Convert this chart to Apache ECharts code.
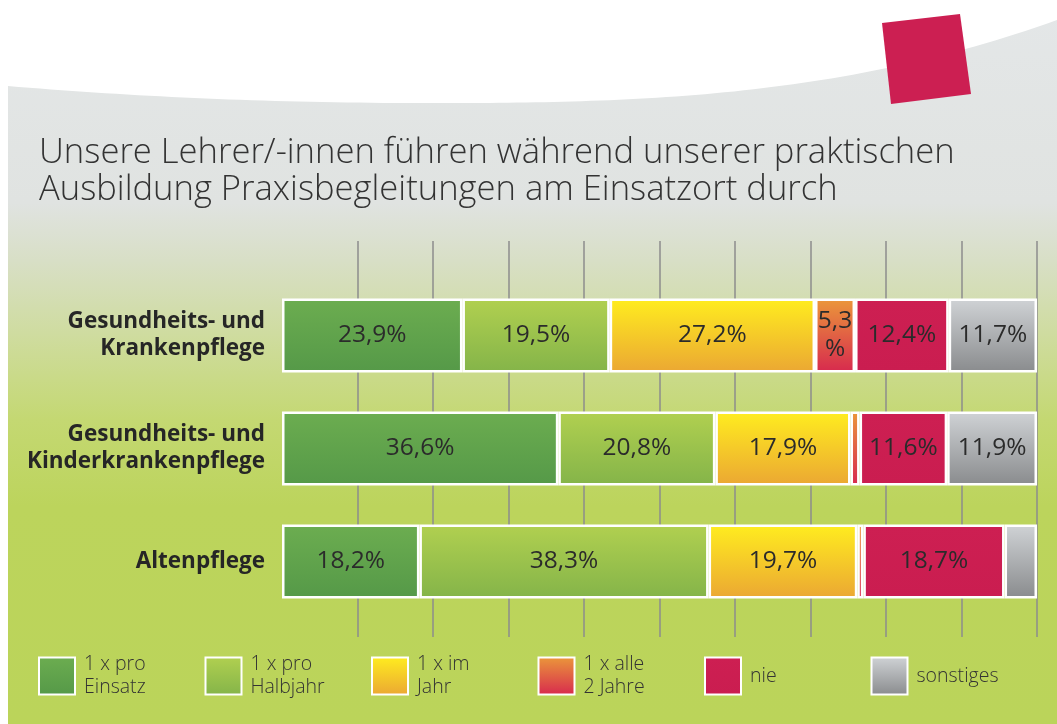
<!DOCTYPE html>
<html><head><meta charset="utf-8">
<script src="https://cdn.jsdelivr.net/npm/echarts@6/dist/echarts.min.js"></script>
<style>html,body{margin:0;padding:0;background:#fff}#c{width:1057px;height:724px}</style>
</head><body><div id="c"></div>
<script>
const categories = ['Gesundheits- und\nKrankenpflege', 'Gesundheits- und\nKinderkrankenpflege', 'Altenpflege'];
const seriesNames = ['1 x pro\nEinsatz', '1 x pro\nHalbjahr', '1 x im\nJahr', '1 x alle\n2 Jahre', 'nie', 'sonstiges'];
const proEinsatz = [23.9, 36.6, 18.2];
const proHalbjahr = [19.5, 20.8, 38.3];
const imJahr = [27.2, 17.9, 19.7];
const alle2Jahre = [5.3, 1.2, 0.8];
const nie = [12.4, 11.6, 18.7];
const sonstiges = [11.7, 11.9, 4.3];
const axisTicks = [0, 10, 20, 30, 40, 50, 60, 70, 80, 90, 100];

const values = [proEinsatz, proHalbjahr, imJahr, alle2Jahre, nie, sonstiges];
const gradients = [
  ['#6cad50', '#559948'],
  ['#b1d050', '#84b449'],
  ['#ffed1f', '#eba733'],
  ['#eb983a', '#d7294e'],
  ['#cd1f52', '#ca1d50'],
  ['#d0d3d6', '#898b8d']
];
function grad(c) {
  return new echarts.graphic.LinearGradient(0, 0, 0, 1, [{offset: 0, color: c[0]}, {offset: 1, color: c[1]}]);
}
const FONT = '"Open Sans", "Noto Sans", sans-serif';

// decorative white top curve (two cubic segments sampled into a polygon)
function cubic(p0, p1, p2, p3, n) {
  const pts = [];
  for (let k = 0; k <= n; k++) {
    const t = k / n, u = 1 - t;
    pts.push([
      u*u*u*p0[0] + 3*u*u*t*p1[0] + 3*u*t*t*p2[0] + t*t*t*p3[0],
      u*u*u*p0[1] + 3*u*u*t*p1[1] + 3*u*t*t*p2[1] + t*t*t*p3[1]
    ]);
  }
  return pts;
}
const curvePts = [[0, 0], [0, 724], [8, 724]]
  .concat(cubic([8, 86], [150, 98], [300, 104], [472, 103], 40))
  .concat(cubic([472, 103], [650, 102], [850, 95], [1057, 20], 60))
  .concat([[1057, 0]]);

const chart = echarts.init(document.getElementById('c'), null, {renderer: 'canvas'});
const series = values.map((v, i) => ({
  name: seriesNames[i],
  type: 'bar',
  stack: 'all',
  xAxisIndex: 1,
  yAxisIndex: 1,
  barWidth: 74,
  data: v,
  itemStyle: {color: grad(gradients[i]), borderColor: '#ffffff', borderWidth: 2.5},
  emphasis: {disabled: true},
  label: {
    show: true,
    position: 'inside',
    fontFamily: FONT,
    fontSize: 24.5,
    color: '#2b2b2b',
    lineHeight: 28,
    formatter: p => {
      if (p.value < 5) return '';
      const s = p.value.toFixed(1).replace('.', ',');
      return p.value < 8 ? s + '\n%' : s + '%';
    }
  }
}));

chart.setOption({
  animation: false,
  graphic: [
    {type: 'rect', z: -100, silent: true, shape: {x: 8, y: 0, width: 1049, height: 724},
      style: {fill: new echarts.graphic.LinearGradient(0, 0, 0, 1, [
        {offset: 0, color: '#e4e7e8'},
        {offset: 0.28, color: '#e0e3e1'},
        {offset: 0.36, color: '#d8dfc6'},
        {offset: 0.46, color: '#cfdca0'},
        {offset: 0.58, color: '#c4d872'},
        {offset: 0.70, color: '#bcd45c'},
        {offset: 1, color: '#bbd45a'}
      ])}},
    {type: 'polygon', z: -99, silent: true,
      shape: {points: curvePts},
      style: {fill: '#ffffff'}},
    {type: 'polygon', z: -98, silent: true,
      shape: {points: [[882, 23], [960, 14], [971, 94], [891, 104]]},
      style: {fill: '#cc1f52'}}
  ],
  title: {
    text: 'Unsere Lehrer/-innen führen während unserer praktischen\nAusbildung Praxisbegleitungen am Einsatzort durch',
    left: 34, top: 130,
    textStyle: {fontFamily: FONT, fontWeight: 300, fontSize: 34.6, lineHeight: 37, color: '#333333'}
  },
  legend: {
    left: 38, top: 653, padding: 0,
    itemWidth: 36, itemHeight: 37, itemGap: 14.5,
    icon: 'rect',
    selectedMode: false,
    data: seriesNames,
    textStyle: {fontFamily: FONT, fontWeight: 300, fontSize: 19.5, lineHeight: 23, color: '#333333', width: 106, padding: [0, 0, 0, 4]}
  },
  grid: [
    {left: 282, right: 20, top: 241, bottom: 87},
    {left: 282, right: 20, top: 279, bottom: 106}
  ],
  xAxis: [
    {gridIndex: 0, type: 'value', min: axisTicks[0], max: axisTicks[axisTicks.length - 1], interval: 10,
      axisLine: {show: false}, axisTick: {show: false}, axisLabel: {show: false},
      splitLine: {show: true, showMinLine: false, lineStyle: {color: '#8c8c8c', width: 1.5}}},
    {gridIndex: 1, type: 'value', min: 0, max: 100, show: false, splitLine: {show: false}}
  ],
  yAxis: [
    {gridIndex: 0, type: 'value', show: false, min: 0, max: 1, splitLine: {show: false}},
    {gridIndex: 1, type: 'category', inverse: true, data: categories,
      axisLine: {show: false}, axisTick: {show: false}, splitLine: {show: false},
      axisLabel: {margin: 17, fontFamily: FONT, fontWeight: 'bold', fontSize: 22.5, lineHeight: 27, color: '#262626', align: 'right'}}
  ],
  series: series
});
</script>
</body></html>
